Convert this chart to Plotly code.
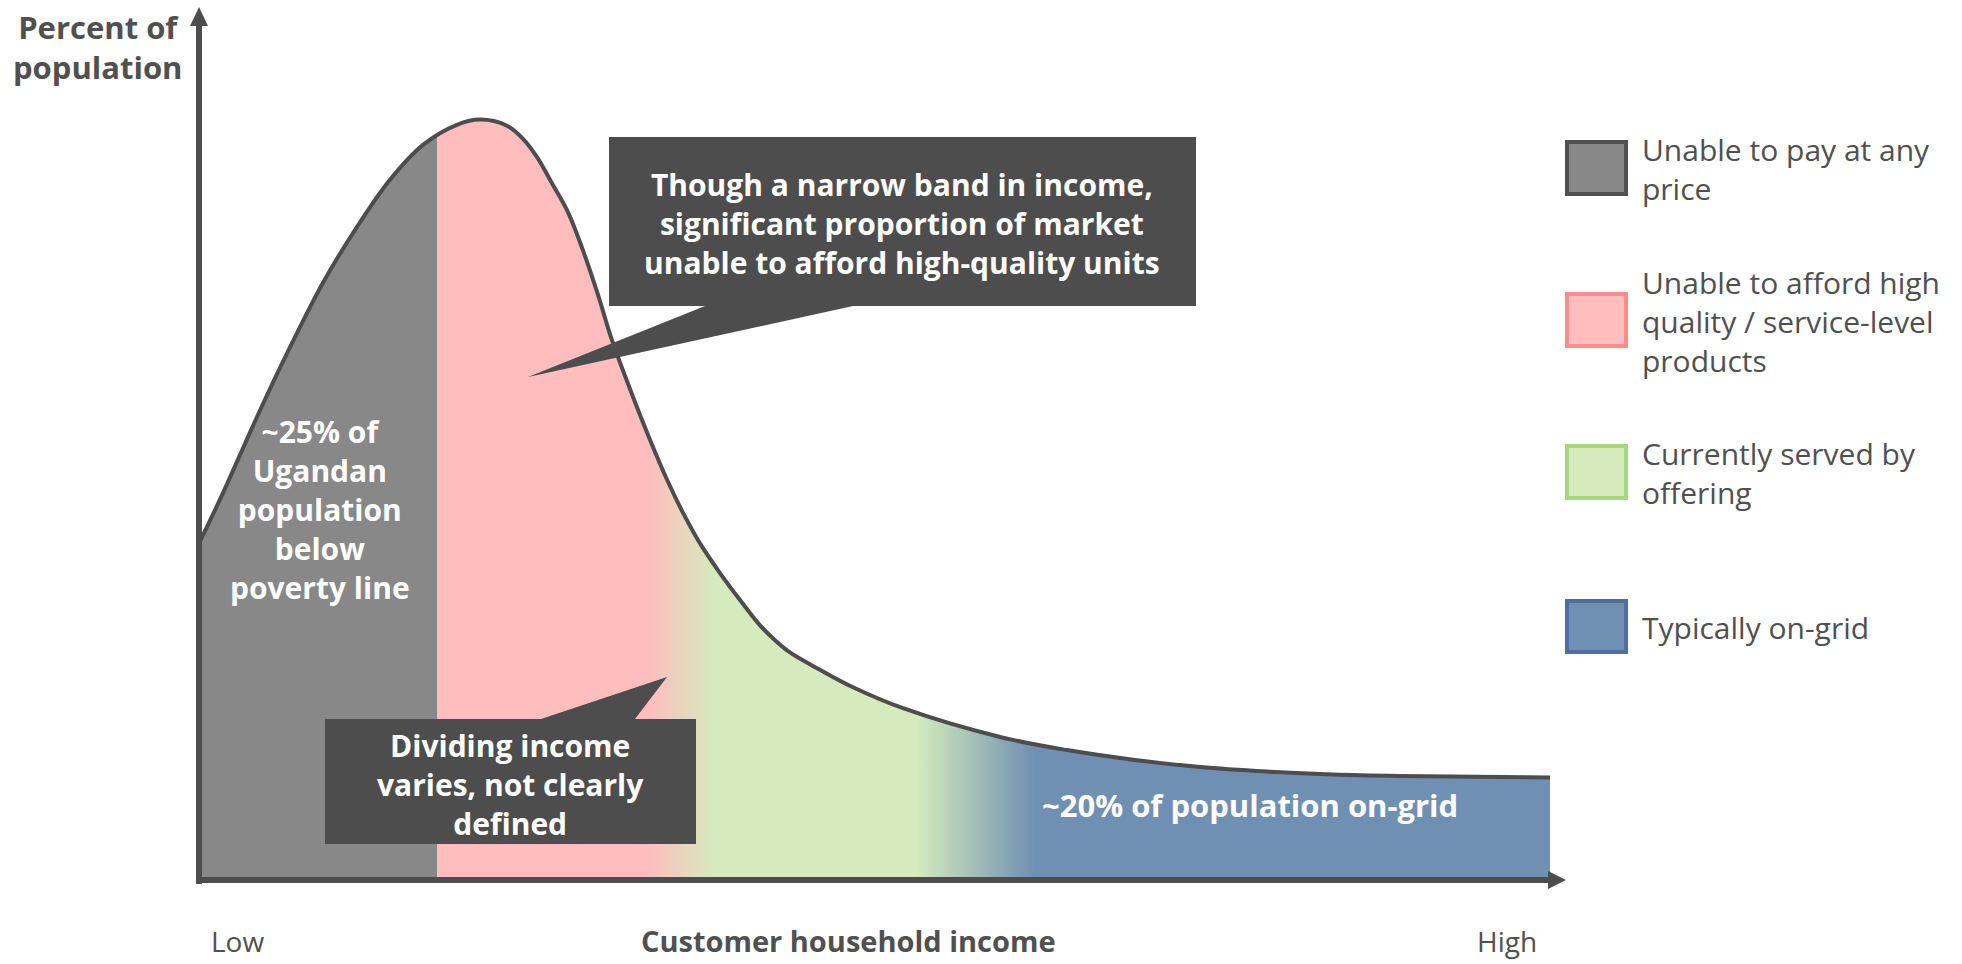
import plotly.graph_objects as go

# ---------------- data ----------------
# household income index (0 = low, 100 = high) and share of population (arbitrary %)
income = [0, 1.76, 4.24, 6.66, 9.07, 11.56, 13.97, 16.39, 18.87, 20.56,
          22.53, 23.70, 24.73, 25.82, 26.99, 28.09, 29.19, 30.21, 31.75, 32.99,
          34.24, 35.41, 36.65, 38.11, 39.58, 41.04, 42.14, 43.23, 45.43, 47.84,
          51.50, 58.60, 63.50, 68.32, 73.23, 78.13, 82.96, 87.86, 98.83]
share = [38.6, 44.4, 53.1, 61.1, 68.5, 74.9, 80.3, 84.3, 86.6, 87.2,
         86.5, 85.0, 82.9, 79.9, 76.6, 72.2, 67.1, 61.9, 55.4, 50.5,
         45.9, 42.1, 38.6, 35.2, 32.1, 29.2, 27.5, 26.1, 24.1, 22.1,
         19.7, 16.4, 14.9, 13.8, 12.96, 12.44, 12.10, 11.93, 11.75]

# segments (legend) and colour stops along the income axis
segment_names = ["Unable to pay at any<br>price",
                 "Unable to afford high<br>quality / service-level<br>products",
                 "Currently served by<br>offering",
                 "Typically on-grid"]
segment_fill = ["#888888", "#FFBDBD", "#D5EBBE", "#7090B3"]
segment_edge = ["#505050", "#FF8C8C", "#A4D97A", "#4F709C"]
poverty_cut = 17.41          # gray | pink (sharp)
pink_end, green_start = 32.77, 37.8
green_end, blue_start = 52.5, 61.1

callout_top = "<b>Though a narrow band in income,<br>significant proportion of market<br>unable to afford high-quality units</b>"
callout_mid = "<b>Dividing income<br>varies, not clearly<br>defined</b>"
label_poverty = "<b>~25% of<br>Ugandan<br>population<br>below<br>poverty line</b>"
label_grid = "<b>~20% of population on-grid</b>"
y_title = "<b>Percent of<br>population</b>"
x_title = "<b>Customer household income</b>"
x_low, x_high = "Low", "High"

# ---------------- layout geometry (pixels) ----------------
W, H = 1962, 964
L, R, T, B = 199, 396, 8, 84
PW, PH = W - L - R, H - T - B
DARK = "#4D4D4D"
TXT = "#505050"
FONT = "Open Sans"


def xp(px):
    return (px - L) / PW


def yp(py):
    return (H - B - py) / PH


xe = income[-1]
cs = [
    [0.0, segment_fill[0]],
    [poverty_cut / xe, segment_fill[0]],
    [poverty_cut / xe + 1e-4, segment_fill[1]],
    [pink_end / xe, segment_fill[1]],
    [green_start / xe, segment_fill[2]],
    [green_end / xe, segment_fill[2]],
    [blue_start / xe, segment_fill[3]],
    [1.0, segment_fill[3]],
]

fig = go.Figure()
fig.add_trace(go.Scatter(
    x=income, y=share, mode="lines", line=dict(width=0, shape="spline", smoothing=1.0),
    fill="tozeroy", fillgradient=dict(type="horizontal", colorscale=cs, start=0, stop=xe),
    hoverinfo="skip", showlegend=False))
fig.add_trace(go.Scatter(
    x=income, y=share, mode="lines", line=dict(width=4, color=DARK, shape="spline", smoothing=1.0),
    hoverinfo="skip", showlegend=False))

shapes = []
# axes with arrowheads
shapes.append(dict(type="line", xref="paper", yref="paper", x0=xp(199), x1=xp(1550), y0=yp(880), y1=yp(880),
                   line=dict(color=DARK, width=6)))
shapes.append(dict(type="line", xref="paper", yref="paper", x0=xp(199), x1=xp(199), y0=yp(884), y1=yp(24),
                   line=dict(color=DARK, width=6)))
shapes.append(dict(type="path", xref="paper", yref="paper",
                   path=f"M {xp(1548)},{yp(871)} L {xp(1566)},{yp(880)} L {xp(1548)},{yp(889)} Z",
                   fillcolor=DARK, line=dict(width=0)))
shapes.append(dict(type="path", xref="paper", yref="paper",
                   path=f"M {xp(190)},{yp(26)} L {xp(199)},{yp(7)} L {xp(208)},{yp(26)} Z",
                   fillcolor=DARK, line=dict(width=0)))


def pth(pts):
    return "M " + " L ".join(f"{xp(a)},{yp(b)}" for a, b in pts) + " Z"


# callout boxes
shapes.append(dict(type="path", xref="paper", yref="paper",
                   path=pth([(609, 137), (1196, 137), (1196, 306), (853, 306), (528, 377), (705, 306), (609, 306)]),
                   fillcolor=DARK, line=dict(width=0)))
shapes.append(dict(type="path", xref="paper", yref="paper",
                   path=pth([(325, 719), (541, 719), (667, 677), (635, 719), (696, 719), (696, 844), (325, 844)]),
                   fillcolor=DARK, line=dict(width=0)))

# legend swatches
sw_y = [(140, 196), (292, 348), (444, 500), (599, 654)]
for (y0, y1), fc, ec in zip(sw_y, segment_fill, segment_edge):
    shapes.append(dict(type="rect", xref="paper", yref="paper", x0=xp(1567), x1=xp(1626),
                       y0=yp(y1 - 2), y1=yp(y0 + 2), fillcolor=fc, line=dict(color=ec, width=4)))

ann = []
for (y0, y1), name in zip(sw_y, segment_names):
    ann.append(dict(xref="paper", yref="paper", x=xp(1640), y=yp((y0 + y1) / 2 + 1), xanchor="left",
                    yanchor="middle", align="left", showarrow=False, text=name,
                    font=dict(family=FONT, size=30, color=TXT)))


def label(px, py, text, size, color="white", yanchor="middle"):
    ann.append(dict(xref="paper", yref="paper", x=xp(px), y=yp(py), text=text, showarrow=False,
                    xanchor="center", yanchor=yanchor, align="center",
                    font=dict(family=FONT, size=size, color=color)))


label(902, 223, callout_top, 30)
label(510, 784, callout_mid, 30)
label(320, 510, label_poverty, 30)
label(1250, 805, label_grid, 31)
label(98, 47, y_title, 31, TXT)
label(237, 962, x_low, 28, TXT, "bottom")
label(1507, 962, x_high, 28, TXT, "bottom")
label(848, 962, x_title, 29, TXT, "bottom")

fig.update_layout(
    width=W, height=H, margin=dict(l=L, r=R, t=T, b=B, autoexpand=False),
    paper_bgcolor="white", plot_bgcolor="white",
    xaxis=dict(range=[0, 100], visible=False, fixedrange=True),
    yaxis=dict(range=[0, 100], visible=False, fixedrange=True),
    shapes=shapes, annotations=ann, showlegend=False,
)

fig.write_html("out.html", config={"displayModeBar": False},
               post_script="document.body.style.margin='0';document.body.style.overflow='hidden';")
